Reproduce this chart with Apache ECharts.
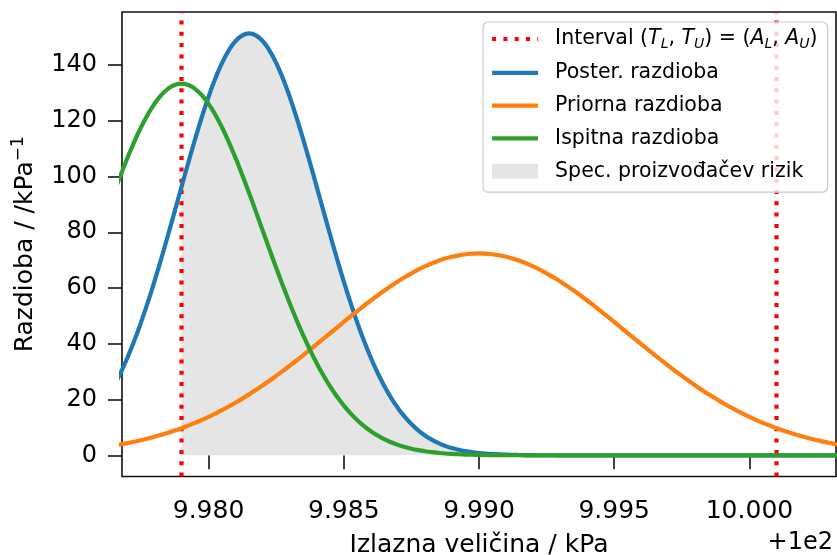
<!DOCTYPE html>
<html><head><meta charset="utf-8">
<script src="https://cdn.jsdelivr.net/npm/echarts@6/dist/echarts.min.js"></script>
<style>html,body{margin:0;padding:0;background:#fff}#c{width:837px;height:555px}</style>
</head><body><div id="c"></div>
<script>
// x positions (kPa, without the +1e2 offset)
const xValues = [
  9.9765, 9.97675, 9.9770, 9.97725, 9.9775, 9.97775, 9.9780, 9.97825, 9.9785, 9.97875,
  9.9790, 9.97925, 9.9795, 9.97975, 9.9800, 9.98025, 9.9805, 9.98075, 9.9810, 9.98125,
  9.9815, 9.98175, 9.9820, 9.98225, 9.9825, 9.98275, 9.9830, 9.98325, 9.9835, 9.98375,
  9.9840, 9.98425, 9.9845, 9.98475, 9.9850, 9.98525, 9.9855, 9.98575, 9.9860, 9.98625,
  9.9865, 9.98675, 9.9870, 9.98725, 9.9875, 9.98775, 9.9880, 9.98825, 9.9885, 9.98875,
  9.9890, 9.98925, 9.9895, 9.98975, 9.9900, 9.99025,
  9.9905, 9.9910, 9.9915, 9.9920, 9.9925, 9.9930, 9.9935, 9.9940, 9.9945, 9.9950,
  9.9955, 9.9960, 9.9965, 9.9970, 9.9975, 9.9980, 9.9985, 9.9990, 9.9995, 10.0000,
  10.0005, 10.0010, 10.0015, 10.0020, 10.0025, 10.0030, 10.0035
];
const posterior = [
  24.84, 29.61, 35.01, 41.00, 47.59, 54.75, 62.41, 70.51, 78.94, 87.59,
  96.30, 104.93, 113.31, 121.25, 128.59, 135.14, 140.75, 145.27, 148.59, 150.62,
  151.3, 150.62, 148.59, 145.27, 140.75, 135.14, 128.59, 121.25, 113.31, 104.93,
  96.30, 87.59, 78.94, 70.51, 62.41, 54.75, 47.59, 41.00, 35.01, 29.61,
  24.84, 20.63, 16.99, 13.86, 11.21, 8.98, 7.14, 5.62, 4.38, 3.39,
  2.59, 1.97, 1.48, 1.10, 0.82, 0.60,
  0.43, 0.22, 0.11, 0.05, 0.02, 0.01, 0, 0, 0, 0,
  0, 0, 0, 0, 0, 0, 0, 0, 0, 0,
  0, 0, 0, 0, 0, 0, 0
];
const prior = [
  3.52, 3.93, 4.39, 4.88, 5.42, 6.01, 6.64, 7.33, 8.07, 8.87,
  9.73, 10.65, 11.62, 12.67, 13.78, 14.96, 16.20, 17.51, 18.89, 20.33,
  21.84, 23.41, 25.04, 26.73, 28.48, 30.27, 32.12, 34.00, 35.92, 37.87,
  39.84, 41.83, 43.83, 45.83, 47.82, 49.80, 51.74, 53.65, 55.52, 57.34,
  59.09, 60.76, 62.36, 63.86, 65.27, 66.57, 67.75, 68.81, 69.75, 70.55,
  71.21, 71.73, 72.10, 72.32, 72.40, 72.32,
  72.10, 71.21, 69.75, 67.75, 65.27, 62.36, 59.09, 55.52, 51.74, 47.82,
  43.83, 39.84, 35.92, 32.12, 28.48, 25.04, 21.84, 18.89, 16.20, 13.78,
  11.62, 9.73, 8.07, 6.64, 5.42, 4.39, 3.52
];
const test = [
  94.05, 100.49, 106.63, 112.35, 117.57, 122.17, 126.06, 129.18, 131.45, 132.84,
  133.3, 132.84, 131.45, 129.18, 126.06, 122.17, 117.57, 112.35, 106.63, 100.49,
  94.05, 87.40, 80.66, 73.93, 67.28, 60.80, 54.57, 48.64, 43.05, 37.84,
  33.02, 28.62, 24.63, 21.06, 17.87, 15.06, 12.61, 10.48, 8.65, 7.09,
  5.77, 4.67, 3.75, 2.98, 2.36, 1.86, 1.45, 1.12, 0.87, 0.66,
  0.50, 0.38, 0.28, 0.21, 0.16, 0.11,
  0.08, 0.04, 0.02, 0, 0, 0, 0, 0, 0, 0,
  0, 0, 0, 0, 0, 0, 0, 0, 0, 0,
  0, 0, 0, 0, 0, 0, 0
];
const intervalLimits = [9.979, 10.001];   // T_L, T_U
const xRange = [9.9768, 10.0032];
const yRange = [-7.6, 159];
const xTicks = [9.980, 9.985, 9.990, 9.995, 10.000];
const yTicks = [0, 20, 40, 60, 80, 100, 120, 140];
const seriesNames = ['Interval (T_L, T_U) = (A_L, A_U)', 'Poster. razdioba', 'Priorna razdioba', 'Ispitna razdioba', 'Spec. proizvođačev rizik'];

const FONT = 'DejaVu Sans';
const pairs = (vals) => xValues.map((x, i) => [x, vals[i]]);
const fillData = xValues.map((x, i) => [x, posterior[i]])
  .filter(p => p[0] >= intervalLimits[0] - 1e-9 && p[0] <= intervalLimits[1] + 1e-9);

const chart = echarts.init(document.getElementById('c'), null, {renderer: 'canvas'});
const lineBase = {type: 'line', symbol: 'none', smooth: true, animation: false, silent: true};
const dotted = [4, 7.3];
const RED = '#ff0000';

const intervalSeries = intervalLimits.map(v => Object.assign({}, lineBase, {
  name: seriesNames[0], smooth: false, z: 2, color: RED,
  itemStyle: {color: RED},
  data: [[v, yRange[0]], [v, yRange[1]]],
  lineStyle: {color: RED, width: 4.2, type: dotted, cap: 'butt'}
}));

chart.setOption({
  animation: false,
  backgroundColor: '#fff',
  grid: {left: 122, top: 12, width: 714, height: 464.5, show: true, borderColor: '#111', borderWidth: 1.6,
    backgroundColor: 'transparent', containLabel: false, outerBoundsMode: 'none'},
  xAxis: {
    type: 'value', min: xRange[0], max: xRange[1],
    name: 'Izlazna veličina / kPa', nameLocation: 'middle', nameGap: 56,
    nameTextStyle: {fontFamily: FONT, fontSize: 25, color: '#000'},
    axisLine: {show: false},
    axisTick: {show: true, length: 14, lineStyle: {color: '#111', width: 1.6}, customValues: xTicks},
    axisLabel: {fontFamily: FONT, fontSize: 25, color: '#000', margin: 22, customValues: xTicks,
      formatter: v => v.toFixed(3)},
    splitLine: {show: false}
  },
  yAxis: {
    type: 'value', min: yRange[0], max: yRange[1],
    name: 'Razdioba / /kPa{sup|−1}', nameLocation: 'middle', nameGap: 82,
    nameTextStyle: {fontFamily: FONT, fontSize: 25, color: '#000', lineHeight: 30,
      rich: {sup: {fontFamily: FONT, fontSize: 17, color: '#000', verticalAlign: 'top', lineHeight: 17}}},
    axisLine: {show: false},
    axisTick: {show: true, length: 14, lineStyle: {color: '#111', width: 1.6}, customValues: yTicks},
    axisLabel: {fontFamily: FONT, fontSize: 24, color: '#000', margin: 25, customValues: yTicks},
    splitLine: {show: false}
  },
  legend: {
    left: 483, top: 22,
    orient: 'vertical',
    backgroundColor: 'rgba(255,255,255,0.8)',
    borderColor: '#cccccc', borderWidth: 1.2, borderRadius: 5,
    padding: [6, 10, 10, 7],
    itemWidth: 46, itemHeight: 15, itemGap: 10.8,
    selectedMode: false,
    lineStyle: {width: 4.2, cap: 'butt'},
    textStyle: {fontFamily: FONT, fontSize: 20.5, color: '#000', lineHeight: 22, padding: [0, 0, 0, 12],
      rich: {
        i: {fontFamily: FONT, fontSize: 20.5, fontStyle: 'italic', color: '#000', lineHeight: 22},
        s: {fontFamily: FONT, fontSize: 14, fontStyle: 'italic', color: '#000', lineHeight: 14, padding: [9, 0, 0, 0], verticalAlign: 'top'}
      }},
    formatter: (name) => name === seriesNames[0]
      ? 'Interval ({i|T}{s|L}, {i|T}{s|U}) = ({i|A}{s|L}, {i|A}{s|U})'
      : name,
    data: [
      {name: seriesNames[0], itemStyle: {opacity: 0}},
      {name: seriesNames[1], itemStyle: {opacity: 0}},
      {name: seriesNames[2], itemStyle: {opacity: 0}},
      {name: seriesNames[3], itemStyle: {opacity: 0}},
      {name: seriesNames[4], icon: 'rect', itemStyle: {color: '#e5e5e5', opacity: 1}}
    ]
  },
  graphic: [
    {type: 'text', right: 4, top: 531, style: {text: '+1e2', font: '24px "DejaVu Sans"', fill: '#000'}}
  ],
  series: [
    Object.assign({}, lineBase, {
      name: seriesNames[4], data: fillData, z: 1, color: '#e5e5e5',
      itemStyle: {color: '#e5e5e5'},
      lineStyle: {width: 0, color: '#e5e5e5'},
      areaStyle: {color: '#e5e5e5', opacity: 1}
    }),
    ...intervalSeries,
    Object.assign({}, lineBase, {
      name: seriesNames[1], data: pairs(posterior), z: 3, color: '#1f77b4',
      lineStyle: {color: '#1f77b4', width: 4.2}
    }),
    Object.assign({}, lineBase, {
      name: seriesNames[2], data: pairs(prior), z: 3, color: '#ff7f0e',
      lineStyle: {color: '#ff7f0e', width: 4.2}
    }),
    Object.assign({}, lineBase, {
      name: seriesNames[3], data: pairs(test), z: 3, color: '#2ca02c',
      lineStyle: {color: '#2ca02c', width: 4.2}
    })
  ]
});
</script>
</body></html>
